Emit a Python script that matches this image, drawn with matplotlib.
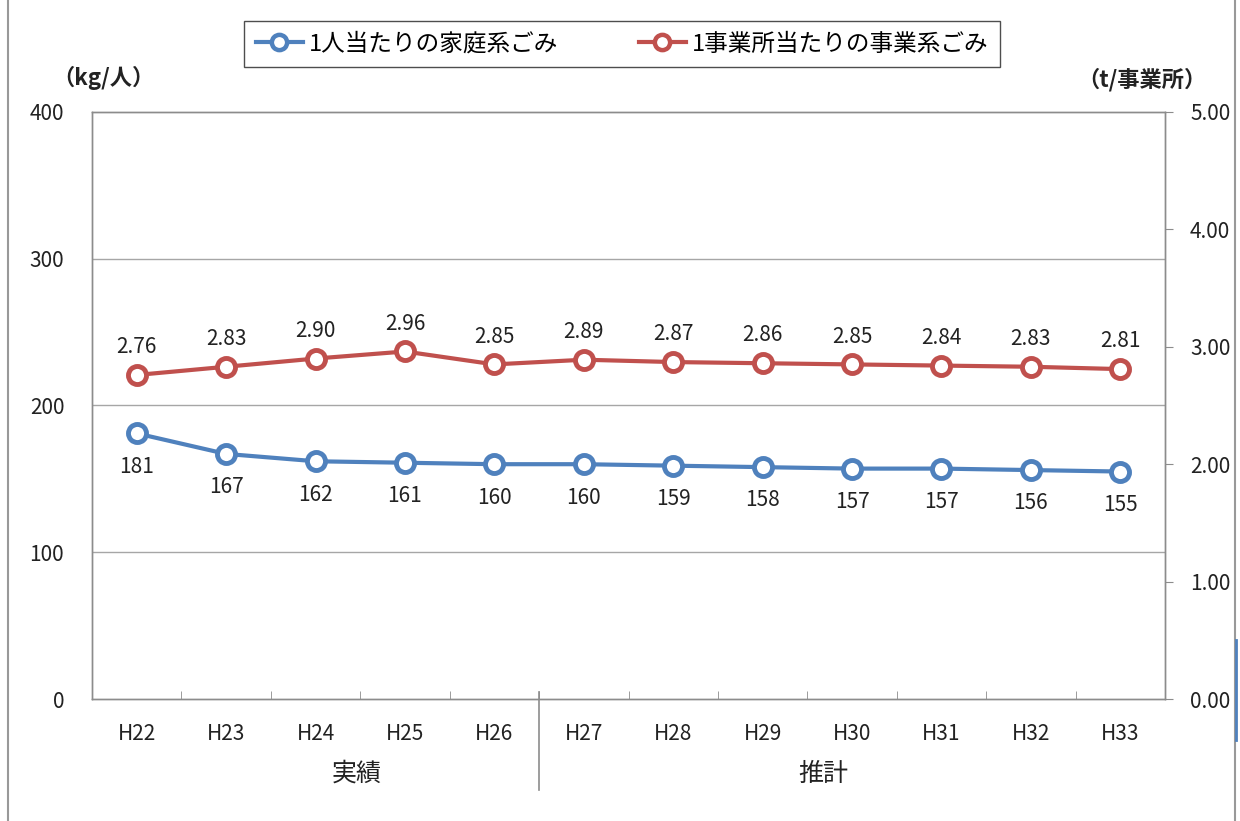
import numpy as np
import matplotlib.pyplot as plt
from matplotlib.lines import Line2D
from matplotlib.transforms import blended_transform_factory

plt.rcParams['font.family'] = ['Noto Sans CJK JP', 'DejaVu Sans']

# data
years = ["H22", "H23", "H24", "H25", "H26", "H27", "H28", "H29", "H30", "H31", "H32", "H33"]
household = [181, 167, 162, 161, 160, 160, 159, 158, 157, 157, 156, 155]
business = [2.76, 2.83, 2.90, 2.96, 2.85, 2.89, 2.87, 2.86, 2.85, 2.84, 2.83, 2.81]
left_ticks = [0, 100, 200, 300, 400]
right_ticks = [0, 1, 2, 3, 4, 5]
groups = ["実績", "推計"]
label_household = "1人当たりの家庭系ごみ"
label_business = "1事業所当たりの事業系ごみ"

blue = "#4F81BD"
red = "#C0504D"
grid_c = "#A6A6A6"
frame_c = "#8C8C8C"
txt_c = "#222222"

fig = plt.figure(figsize=(12.4, 8.21), dpi=100)
ax = fig.add_axes([92 / 1240, 122 / 821, 1073 / 1240, 587 / 821])
ax2 = ax.twinx()

x = np.arange(len(years))
ax.set_xlim(-0.5, len(years) - 0.5)
ax.set_ylim(0, 400)
ax2.set_ylim(0, 5)

ax.plot(x, household, color=blue, lw=3, marker="o", ms=13, mfc="white",
        mec=blue, mew=3.5, zorder=5)
ax2.plot(x, business, color=red, lw=3, marker="o", ms=13, mfc="white",
         mec=red, mew=3.5, zorder=5)

for xi, v in zip(x, household):
    ax.annotate(f"{v}", (xi, v), xytext=(0, -24), textcoords="offset points",
                ha="center", va="center", fontsize=15, color=txt_c)
for xi, v in zip(x, business):
    ax2.annotate(f"{v:.2f}", (xi, v), xytext=(0, 20), textcoords="offset points",
                 ha="center", va="center", fontsize=15, color=txt_c)

# grid and frame
for gy in [100, 200, 300]:
    ax.axhline(gy, color=grid_c, lw=1, zorder=0)
for a in (ax, ax2):
    for s in a.spines.values():
        s.set_color(frame_c)
        s.set_linewidth(1)

ax.set_yticks(left_ticks)
ax.set_yticklabels([str(t) for t in left_ticks])
ax.tick_params(axis="y", length=0, pad=20, labelsize=15, colors=txt_c)
ax2.set_yticks(right_ticks)
ax2.set_yticklabels([f"{t:.2f}" for t in right_ticks])
ax2.tick_params(axis="y", length=6, direction="out", pad=12, labelsize=15,
                colors=txt_c)
ax2.tick_params(axis="y", color=frame_c)

ax.set_xticks(x)
ax.set_xticklabels(years)
ax.tick_params(axis="x", which="major", length=0, pad=17, labelsize=15,
               colors=txt_c)
ax.set_xticks(np.arange(0.5, len(years) - 0.5, 1), minor=True)
ax.tick_params(axis="x", which="minor", length=6, direction="in", color=frame_c)

# group separator and labels
tr = blended_transform_factory(ax.transData, ax.transAxes)
ax.plot([4.5, 4.5], [0.012, -0.155], transform=tr, color=frame_c, lw=1.2,
        clip_on=False)
ax.text(2.46, -0.127, groups[0], transform=tr, ha="center", va="center",
        fontsize=18, color=txt_c)
ax.text(7.68, -0.127, groups[1], transform=tr, ha="center", va="center",
        fontsize=18, color=txt_c)

# axis unit labels
fig.text(103 / 1240, 1 - 78 / 821, "（kg/人）", ha="center", va="center",
         fontsize=16, fontweight="bold", color=txt_c)
fig.text(1142 / 1240, 1 - 80 / 821, "（t/事業所）", ha="center", va="center",
         fontsize=16, fontweight="bold", color=txt_c)

# legend
handles = [
    Line2D([], [], color=blue, lw=3, marker="o", ms=11, mfc="white", mec=blue, mew=3.2),
    Line2D([], [], color=red, lw=3, marker="o", ms=11, mfc="white", mec=red, mew=3.2),
]
leg = fig.legend(handles, [label_household, label_business], loc="center",
                 bbox_to_anchor=(622 / 1240, 1 - 44 / 821), ncol=2, fontsize=17,
                 frameon=True, fancybox=False, edgecolor=txt_c,
                 handlelength=2.0, columnspacing=3.4, borderpad=0.5,
                 handletextpad=0.25, borderaxespad=0)
leg.get_frame().set_linewidth(1)

# outer chart border
fig.add_artist(Line2D([8 / 1240, 8 / 1240], [0, 1], color="#999999", lw=1.5))
fig.add_artist(Line2D([1235 / 1240, 1235 / 1240], [0, 1], color="#999999", lw=1.5))
fig.add_artist(Line2D([1236 / 1240, 1236 / 1240], [1 - 740 / 821, 1 - 640 / 821],
                      color=blue, lw=2))

fig.savefig("out.png", dpi=100)
